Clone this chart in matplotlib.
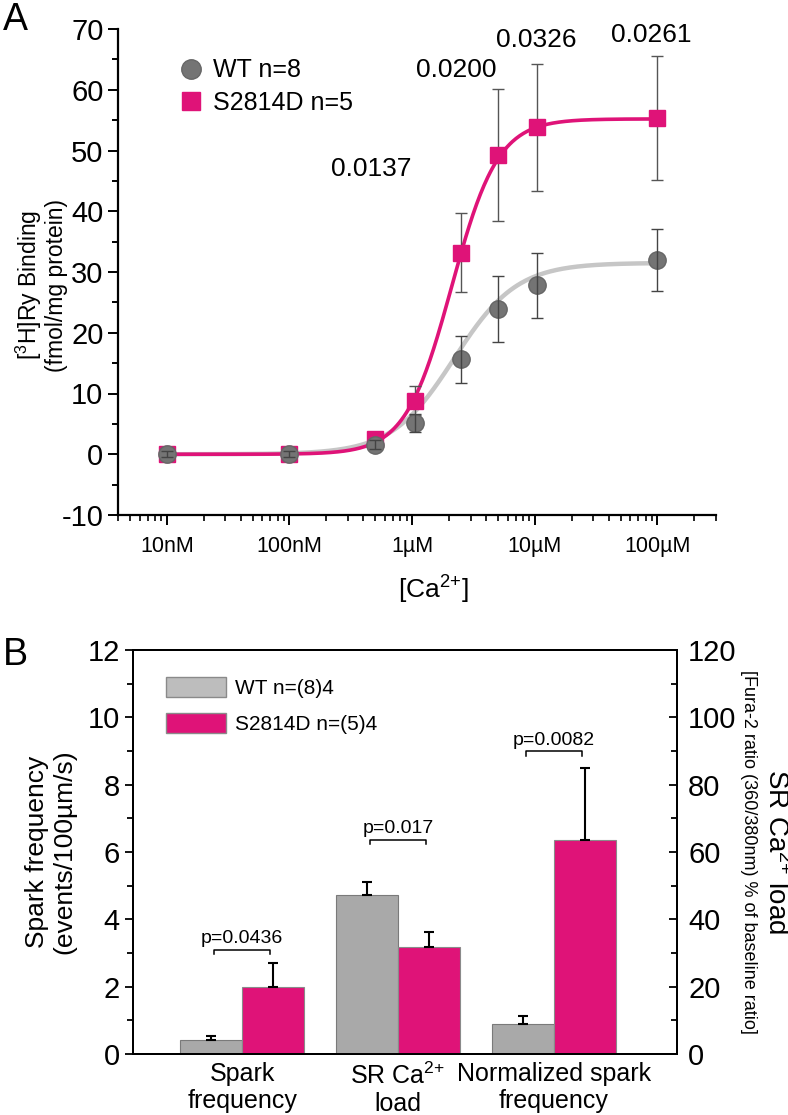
import numpy as np
import matplotlib
matplotlib.use("Agg")
import matplotlib.pyplot as plt
from matplotlib.ticker import LogLocator, MultipleLocator, NullFormatter
from matplotlib.patches import Patch
from matplotlib.lines import Line2D

plt.rcParams['font.family'] = ['Liberation Sans', 'DejaVu Sans']
plt.rcParams['mathtext.fontset'] = 'custom'
plt.rcParams['mathtext.rm'] = 'Liberation Sans'
plt.rcParams['mathtext.it'] = 'Liberation Sans:italic'
plt.rcParams['axes.unicode_minus'] = False

PINK = '#DF1378'
GRAYPT = '#747474'
GRAYCURVE = '#C6C6C6'
GRAYBAR = '#A9A9A9'

# ---------------- Panel A data ----------------
ca_conc = [1e-8, 1e-7, 5e-7, 1.05e-6, 2.5e-6, 5e-6, 1.05e-5, 1e-4]
wt_binding = [0.0, 0.0, 1.6, 5.2, 15.6, 23.9, 27.8, 32.0]
wt_err = [0.5, 0.5, 0.8, 1.5, 3.8, 5.5, 5.4, 5.1]
s_binding = [0.0, 0.0, 2.5, 8.8, 33.2, 49.3, 53.8, 55.4]
s_err = [0.5, 0.5, 0.8, 2.4, 6.5, 10.9, 10.5, 10.2]
# Hill fit parameters (max, EC50 in M, Hill coefficient)
wt_fit = [31.5, 2.2e-6, 1.7]
s_fit = [55.2, 2.1e-6, 2.3]
pvals_A = ['0.0137', '0.0200', '0.0326', '0.0261']
xtick_vals_A = [1e-8, 1e-7, 1e-6, 1e-5, 1e-4]
xtick_labels_A = ['10nM', '100nM', '1µM', '10µM', '100µM']

# ---------------- Panel B data ----------------
b_categories = ['Spark\nfrequency', 'SR Ca$^{2{+}}$\nload', 'Normalized spark\nfrequency']
wt_spark, wt_spark_err = 0.41, 0.12
s_spark, s_spark_err = 2.0, 0.69
wt_load, wt_load_err = 47.2, 3.9
s_load, s_load_err = 31.7, 4.6
wt_norm, wt_norm_err = 0.90, 0.22
s_norm, s_norm_err = 6.35, 2.15
pvals_B = ['p=0.0436', 'p=0.017', 'p=0.0082']

fig = plt.figure(figsize=(7.88, 11.15), dpi=100)
W, H = 788, 1115

def box(l, t, r, b):
    return [l / W, 1 - b / H, (r - l) / W, (b - t) / H]

# ================= Panel A =================
axA = fig.add_axes(box(118, 29, 716, 515))
axA.set_xscale('log')
axA.set_xlim(4e-9, 3e-4)
axA.set_ylim(-10, 70)
for s in ['top', 'right']:
    axA.spines[s].set_visible(False)
for s in ['left', 'bottom']:
    axA.spines[s].set_linewidth(1.6)

xx = np.logspace(-8, -4, 400)
def hill(x, p):
    m, k, n = p
    return m * x**n / (x**n + k**n)

axA.plot(xx, hill(xx, wt_fit), color=GRAYCURVE, lw=3.2, zorder=2)
axA.plot(xx, hill(xx, s_fit), color=PINK, lw=2.6, zorder=3)

axA.errorbar(ca_conc, s_binding, yerr=s_err, fmt='none', ecolor='#555555',
             elinewidth=1, capsize=4, capthick=1, zorder=4)
axA.plot(ca_conc, s_binding, 's', color=PINK, ms=11, mec=PINK, zorder=5)
axA.plot(ca_conc, wt_binding, 'o', color=GRAYPT, ms=12.5, mec='#666666', zorder=6)
axA.errorbar(ca_conc, wt_binding, yerr=wt_err, fmt='none', ecolor='#444444',
             elinewidth=1, capsize=4, capthick=1, zorder=7)

axA.set_xticks(xtick_vals_A)
axA.set_xticklabels(xtick_labels_A, fontsize=15.5)
axA.xaxis.set_minor_locator(LogLocator(base=10, subs=np.arange(2, 10), numticks=20))
axA.xaxis.set_minor_formatter(NullFormatter())
axA.yaxis.set_major_locator(MultipleLocator(10))
axA.yaxis.set_minor_locator(MultipleLocator(5))
axA.tick_params(axis='y', which='major', labelsize=21, length=7, width=1.4, direction='out')
axA.tick_params(axis='y', which='minor', length=4, width=1.4, direction='out')
axA.tick_params(axis='x', which='major', length=7, width=1.4, direction='out', pad=8)
axA.tick_params(axis='x', which='minor', length=4, width=1.2, direction='out')

fig.text(41 / W, 1 - 285 / H, '[$^{3}$H]Ry Binding\n(fmol/mg protein)', fontsize=16.5,
         linespacing=1.1, rotation=90, ha='center', va='center', multialignment='center')
fig.text(433 / W, 1 - 590 / H, '[Ca$^{2{+}}$]', fontsize=19, ha='center', va='center')

ann_x = [4.6e-7, 2.3e-6, 1.02e-5, 8.9e-5]
ann_y = [47.0, 63.3, 68.2, 69.0]
for t, x, y in zip(pvals_A, ann_x, ann_y):
    axA.text(x, y, t, fontsize=19, ha='center', va='center')

legA = [Line2D([0], [0], marker='o', color='w', markerfacecolor=GRAYPT, markeredgecolor='#666666', ms=14, label='WT n=8'),
        Line2D([0], [0], marker='s', color='w', markerfacecolor=PINK, markeredgecolor=PINK, ms=13, label='S2814D n=5')]
axA.legend(handles=legA, loc='upper left', bbox_to_anchor=(0.08, 0.96), frameon=False,
           fontsize=18, handletextpad=0.3, borderaxespad=0, labelspacing=0.35, handlelength=1.2)

fig.text(0.004, 1 - 20 / H, 'A', fontsize=27, ha='left', va='center')

# ================= Panel B =================
narrow = ['Liberation Sans Narrow', 'DejaVu Sans Condensed', 'Liberation Sans', 'DejaVu Sans']
axB = fig.add_axes(box(133, 650, 677, 1054))
axB2 = axB.twinx()
axB.set_xlim(0.30, 3.79)
axB.set_ylim(0, 12)
axB2.set_ylim(0, 120)
bw = 0.4
pos = np.array([1.0, 2.0, 3.0])

ekw = dict(ecolor='black', elinewidth=1.5, capsize=3.5, capthick=1.5)
axB.bar(pos[0] - bw / 2, wt_spark, bw, color=GRAYBAR, edgecolor='#7a7a7a', lw=0.8)
axB.bar(pos[0] + bw / 2, s_spark, bw, color=PINK, edgecolor='#8a8a8a', lw=0.8)
axB.errorbar(pos[0] - bw / 2, wt_spark, yerr=[[0], [wt_spark_err]], fmt='none', **ekw)
axB.errorbar(pos[0] + bw / 2, s_spark, yerr=[[0], [s_spark_err]], fmt='none', **ekw)

axB2.bar(pos[1] - bw / 2, wt_load, bw, color=GRAYBAR, edgecolor='#7a7a7a', lw=0.8)
axB2.bar(pos[1] + bw / 2, s_load, bw, color=PINK, edgecolor='#8a8a8a', lw=0.8)
axB2.errorbar(pos[1] - bw / 2, wt_load, yerr=[[0], [wt_load_err]], fmt='none', **ekw)
axB2.errorbar(pos[1] + bw / 2, s_load, yerr=[[0], [s_load_err]], fmt='none', **ekw)

axB.bar(pos[2] - bw / 2, wt_norm, bw, color=GRAYBAR, edgecolor='#7a7a7a', lw=0.8)
axB.bar(pos[2] + bw / 2, s_norm, bw, color=PINK, edgecolor='#8a8a8a', lw=0.8)
axB.errorbar(pos[2] - bw / 2, wt_norm, yerr=[[0], [wt_norm_err]], fmt='none', **ekw)
axB.errorbar(pos[2] + bw / 2, s_norm, yerr=[[0], [s_norm_err]], fmt='none', **ekw)

# significance brackets (left-axis units)
br_y = [3.09, 6.37, 8.99]
for p, t, y in zip(pos, pvals_B, br_y):
    x0, x1 = p - bw / 2 + 0.02, p + bw / 2 - 0.02
    axB.plot([x0, x0, x1, x1], [y - 0.13, y, y, y - 0.13], color='black', lw=1.1)
    axB.text(p, y + 0.08, t, fontsize=14, ha='center', va='bottom', family=narrow)

axB.set_xticks(pos)
axB.set_xticklabels(b_categories, fontsize=18, linespacing=1.15)
axB.tick_params(axis='x', length=0, pad=6)
axB.yaxis.set_major_locator(MultipleLocator(2))
axB.yaxis.set_minor_locator(MultipleLocator(1))
axB.tick_params(axis='y', which='major', labelsize=21, length=6, width=1.3, direction='out')
axB.tick_params(axis='y', which='minor', length=4, width=1.3, direction='out')
axB2.yaxis.set_major_locator(MultipleLocator(20))
axB2.yaxis.set_minor_locator(MultipleLocator(10))
axB2.tick_params(axis='y', which='major', labelsize=21, length=6, width=1.3, direction='in', pad=8)
axB2.tick_params(axis='y', which='minor', length=4, width=1.3, direction='in')
for a in (axB, axB2):
    for s in a.spines.values():
        s.set_linewidth(1.4)
for lab in axB.get_yticklabels() + axB2.get_yticklabels():
    lab.set_family(narrow)

axB.set_ylabel('Spark frequency\n(events/100µm/s)', fontsize=19, labelpad=8, linespacing=1.15)
fig.text(749 / W, 1 - 852 / H, '[Fura-2 ratio (360/380nm) % of baseline ratio]', fontsize=13,
         rotation=-90, ha='center', va='center')
fig.text(776 / W, 1 - 852 / H, 'SR Ca$^{2{+}}$ load', fontsize=20, rotation=-90, ha='center', va='center')

legB = [Patch(facecolor='#BDBDBD', edgecolor='#8a8a8a', label='WT n=(8)4'),
        Patch(facecolor=PINK, edgecolor='#8a8a8a', label='S2814D n=(5)4')]
legend_b = axB.legend(handles=legB, loc='upper left', bbox_to_anchor=(0.045, 0.955), frameon=False,
                      fontsize=15, handlelength=2.9, handleheight=1.1, handletextpad=0.4,
                      borderaxespad=0, labelspacing=0.75)
for t in legend_b.get_texts():
    t.set_family(narrow)

fig.text(0.004, 1 - 655 / H, 'B', fontsize=27, ha='left', va='center')

fig.savefig('out.png', dpi=100)
